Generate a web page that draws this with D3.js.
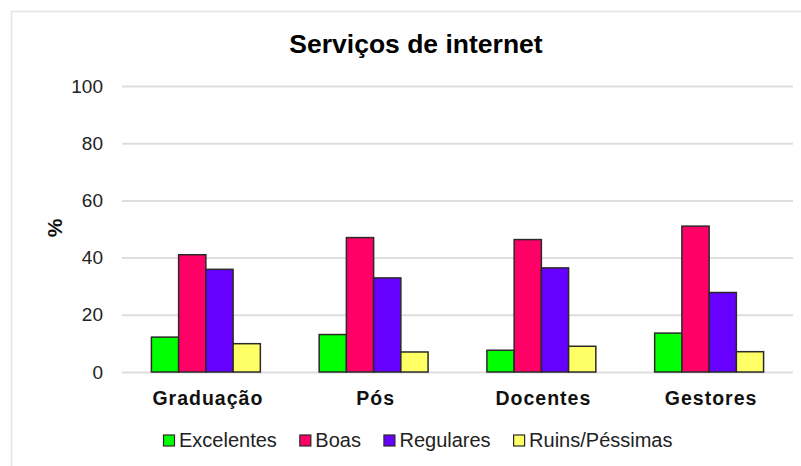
<!DOCTYPE html>
<html>
<head>
<meta charset="utf-8">
<script src="https://cdn.jsdelivr.net/npm/d3@7/dist/d3.min.js"></script>
<style>
  html, body { margin: 0; padding: 0; background: #fff; }
  svg { display: block; font-family: "Liberation Sans", Arial, sans-serif; }
</style>
</head>
<body>
<svg id="chart" width="801" height="466"></svg>
<script>
// Chart data
const categories = ["Graduação", "Pós", "Docentes", "Gestores"];
const seriesNames = ["Excelentes", "Boas", "Regulares", "Ruins/Péssimas"];
const excelentes = [12.2, 13.1, 7.6, 13.6];
const boas = [41.0, 47.0, 46.3, 51.0];
const regulares = [35.9, 32.9, 36.4, 27.8];
const ruins = [9.9, 7.0, 9.0, 7.1];
const yTicks = [0, 20, 40, 60, 80, 100];
const seriesColors = ["#00ff00", "#ff0066", "#6600ff", "#ffff66"];

const seriesValues = [excelentes, boas, regulares, ruins];
const rows = categories.map((c, i) => ({
  category: c,
  values: seriesNames.map((s, j) => ({ series: s, value: seriesValues[j][i] }))
}));

const svg = d3.select("#chart");
const W = 801, H = 466;
const plot = { left: 122, right: 793, top: 86, bottom: 372 };

// Outer frame
svg.append("rect")
  .attr("x", 11.5).attr("y", 11.5)
  .attr("width", W + 20).attr("height", H + 20)
  .attr("fill", "none").attr("stroke", "#e3e3e3").attr("stroke-width", 1.5);

// Title
svg.append("text")
  .attr("x", 416).attr("y", 53)
  .attr("text-anchor", "middle")
  .attr("font-size", 26.5).attr("font-weight", "bold").attr("fill", "#000")
  .text("Serviços de internet");

const x = d3.scaleBand().domain(categories).range([plot.left, plot.right]).padding(0);
const xInner = d3.scaleBand().domain(seriesNames).range([0, x.bandwidth()])
  .paddingInner(0).paddingOuter(1.08);
const y = d3.scaleLinear().domain([0, 100]).range([plot.bottom, plot.top]);
const color = d3.scaleOrdinal().domain(seriesNames).range(seriesColors);

// Gridlines and y tick labels
const yAxis = d3.axisLeft(y).tickValues(yTicks)
  .tickSize(-(plot.right - plot.left)).tickPadding(19);
const gy = svg.append("g")
  .attr("transform", `translate(${plot.left},0)`)
  .call(yAxis);
gy.select(".domain").remove();
gy.selectAll(".tick line").attr("stroke", "#dedede").attr("stroke-width", 2);
gy.selectAll(".tick text")
  .attr("font-size", 19).attr("fill", "#222")
  .attr("font-family", "'Liberation Sans', Arial, sans-serif");

// Y axis title
svg.append("text")
  .attr("transform", "translate(61.5,228) rotate(-90)")
  .attr("text-anchor", "middle")
  .attr("font-size", 21).attr("font-weight", "bold").attr("fill", "#111")
  .text("%");

// Bars
const groups = svg.append("g").selectAll("g")
  .data(rows).join("g")
  .attr("transform", d => `translate(${x(d.category)},0)`);
groups.selectAll("rect")
  .data(d => d.values).join("rect")
  .attr("x", d => xInner(d.series))
  .attr("y", d => y(d.value))
  .attr("width", xInner.bandwidth())
  .attr("height", d => y(0) - y(d.value))
  .attr("fill", d => color(d.series))
  .attr("stroke", "#2a2a2a").attr("stroke-width", 1.5);

// Category labels
const xAxis = d3.axisBottom(x).tickSize(0).tickPadding(0);
const gx = svg.append("g")
  .attr("transform", `translate(0,${plot.bottom})`)
  .call(xAxis);
gx.select(".domain").remove();
gx.selectAll(".tick text")
  .attr("dy", null).attr("y", 33)
  .attr("dx", 2)
  .attr("font-size", 19.5).attr("font-weight", "bold").attr("fill", "#111")
  .attr("letter-spacing", 1)
  .attr("font-family", "'Liberation Sans', Arial, sans-serif");

// Legend
const legend = svg.append("g");
const items = legend.selectAll("g").data(seriesNames).join("g");
items.append("rect")
  .attr("width", 11).attr("height", 11)
  .attr("y", -12)
  .attr("fill", d => color(d))
  .attr("stroke", "#2a2a2a").attr("stroke-width", 1.2);
items.append("text")
  .attr("x", 15.5)
  .attr("font-size", 20).attr("fill", "#222")
  .text(d => d);
let cursor = 0;
items.each(function () {
  const g = d3.select(this);
  g.attr("transform", `translate(${cursor},0)`);
  cursor += 15.5 + g.select("text").node().getComputedTextLength() + 23;
});
const legendWidth = cursor - 23;
legend.attr("transform", `translate(${418 - legendWidth / 2},447)`);
</script>
</body>
</html>
